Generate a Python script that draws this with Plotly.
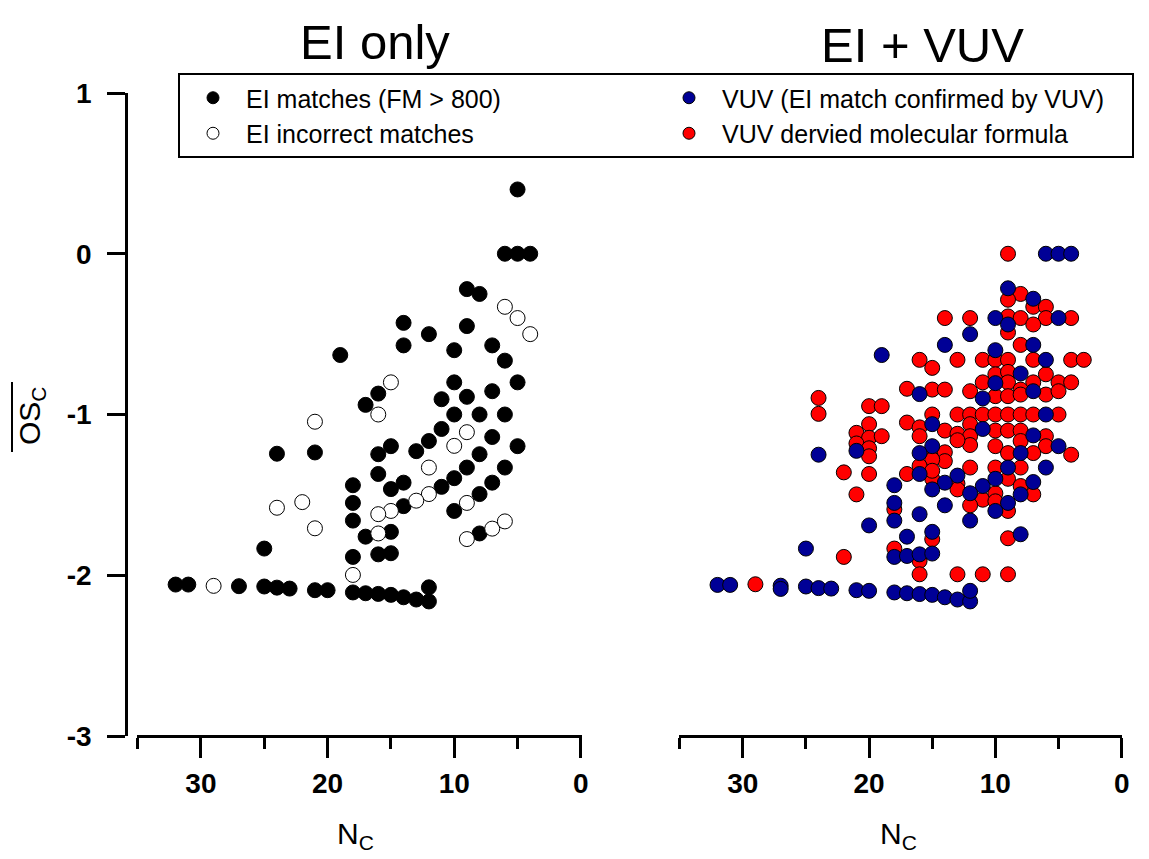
import plotly.graph_objects as go

# ---------------- data ----------------
# Left panel: EI only
EI_MATCH_NC = [5, 6, 5, 4, 9, 8, 14, 12, 9, 14, 10, 7, 6, 19, 5, 10, 7, 9, 11, 16, 17,
               10, 8, 6, 11, 7, 12, 5, 15, 16, 13, 21, 8, 24, 16, 9, 6, 18, 15, 14, 10,
               11, 7, 8, 14, 18, 10, 18, 17, 15, 8, 16, 15, 18, 25,
               32, 31, 27, 25, 24, 23, 21, 20, 18, 17, 16, 15, 14, 13, 12, 12]
EI_MATCH_OS = [0.40, 0, 0, 0, -0.22, -0.25, -0.43, -0.50, -0.45, -0.57, -0.60, -0.57, -0.665,
               -0.63, -0.80, -0.80, -0.855, -0.89, -0.905, -0.87, -0.94,
               -1.0, -1.0, -1.0, -1.09, -1.14, -1.165, -1.197, -1.197, -1.247, -1.228, -1.236,
               -1.247, -1.244, -1.37, -1.33, -1.33, -1.44, -1.464, -1.424, -1.396,
               -1.45, -1.424, -1.495, -1.57, -1.55, -1.6, -1.66, -1.76, -1.73, -1.74,
               -1.87, -1.863, -1.886, -1.834,
               -2.058, -2.058, -2.068, -2.07, -2.077, -2.083, -2.093, -2.093, -2.107, -2.112,
               -2.116, -2.122, -2.137, -2.151, -2.163, -2.075]

EI_WRONG_NC = [6, 5, 4, 15, 16, 21, 9, 10, 12, 24, 22, 21, 12, 13, 15, 16, 9, 16, 9, 7, 6, 18, 29]
EI_WRONG_OS = [-0.33, -0.40, -0.50, -0.80, -1.0, -1.045, -1.11, -1.195, -1.33, -1.58, -1.545,
               -1.708, -1.495, -1.536, -1.6, -1.62, -1.55, -1.74, -1.775, -1.71, -1.665,
               -1.998, -2.066]

# Right panel: EI + VUV
VUV_CONF_NC = [6, 5, 4, 9, 7, 10, 5, 9, 12, 14, 7, 19, 10, 6, 8, 10, 16, 11, 7, 6, 15, 11, 7,
               21, 24, 5, 15, 16, 8, 16, 9, 6, 13, 14, 18, 15, 11, 10, 7, 12, 8, 18, 14, 9,
               10, 16, 18, 12, 20, 15, 17, 8, 25, 18, 17, 16, 15,
               32, 31, 27, 27, 25, 24, 23, 21, 20, 18, 17, 16, 15, 14, 13, 12, 12]
VUV_CONF_OS = [0, 0, 0, -0.215, -0.28, -0.40, -0.40, -0.44, -0.50, -0.567, -0.567, -0.63, -0.60,
               -0.66, -0.745, -0.805, -0.873, -0.90, -0.855, -1.0, -1.06, -1.09, -1.13,
               -1.226, -1.25, -1.197, -1.197, -1.24, -1.24, -1.37, -1.33, -1.33, -1.38, -1.424,
               -1.44, -1.466, -1.445, -1.40, -1.42, -1.49, -1.497, -1.55, -1.565, -1.55,
               -1.60, -1.62, -1.66, -1.66, -1.69, -1.73, -1.76, -1.745, -1.834, -1.886, -1.88,
               -1.87, -1.865,
               -2.06, -2.06, -2.065, -2.085, -2.07, -2.08, -2.083, -2.093, -2.097, -2.107,
               -2.112, -2.117, -2.122, -2.137, -2.151, -2.163, -2.097]

VUV_FORM_NC = [9, 8, 9, 7, 6, 14, 12, 9, 8, 6, 4, 7, 9, 8,
               16, 15, 13, 11, 10, 9, 7, 4, 3, 10, 9, 6, 11, 9, 7, 5, 4, 8, 6, 5,
               17, 15, 14, 12, 10, 9, 8, 24, 24, 20, 19,
               15, 13, 12, 11, 10, 9, 8, 7, 5, 20, 17, 12, 16, 21, 20, 19,
               14, 13, 12, 12, 10, 9, 8, 6, 16, 21, 20, 20, 10, 8, 6,
               15, 14, 14, 15, 9, 7, 4, 13, 22, 20, 17, 16, 15, 15, 12, 10, 8,
               13, 13, 11, 10, 10, 9, 8, 7, 12, 21, 18, 9, 15, 9, 22, 18, 16,
               16, 13, 11, 9, 29]
VUV_FORM_OS = [0, -0.25, -0.286, -0.33, -0.33, -0.40, -0.40, -0.39, -0.40, -0.40, -0.40, -0.44,
               -0.49, -0.567,
               -0.66, -0.71, -0.66, -0.66, -0.66, -0.66, -0.66, -0.66, -0.66, -0.75, -0.735,
               -0.75, -0.80, -0.80, -0.80, -0.80, -0.80, -0.845, -0.876, -0.855,
               -0.84, -0.845, -0.845, -0.855, -0.886, -0.886, -0.876, -0.897, -0.996, -0.948,
               -0.948,
               -1.0, -1.0, -1.0, -1.0, -1.0, -1.0, -1.0, -1.0, -1.0, -1.06, -1.05, -1.06, -1.08,
               -1.114, -1.145, -1.135,
               -1.10, -1.12, -1.135, -1.19, -1.10, -1.10, -1.10, -1.135, -1.135, -1.18, -1.21,
               -1.26, -1.197, -1.165, -1.197,
               -1.25, -1.235, -1.29, -1.28, -1.24, -1.24, -1.25, -1.16, -1.36, -1.37, -1.37,
               -1.32, -1.40, -1.35, -1.33, -1.33, -1.33,
               -1.43, -1.466, -1.53, -1.49, -1.54, -1.40, -1.445, -1.497, -1.565, -1.497, -1.59,
               -1.60, -1.776, -1.77, -1.886, -1.834, -1.911,
               -1.994, -1.994, -1.994, -1.994, -2.056]

X_TICKS = [0, 10, 20, 30]
X_TICKTEXT = ["0", "10", "20", "30"]
Y_TICKS = [-3, -2, -1, 0, 1]
Y_TICKTEXT = ["-3", "-2", "-1", "0", "1"]

# ---------------- figure ----------------
W, H = 1149, 859
FONT = "Liberation Sans, Arial, sans-serif"
BLUE = "#000096"
RED = "#ff0000"
MS = 15

fig = go.Figure()

def mk(fill, size=MS):
    return dict(size=size, color=fill, line=dict(color="black", width=1))

# data traces
fig.add_trace(go.Scatter(x=EI_MATCH_NC, y=EI_MATCH_OS, mode="markers", marker=mk("black"),
                         xaxis="x", yaxis="y", showlegend=False))
fig.add_trace(go.Scatter(x=EI_WRONG_NC, y=EI_WRONG_OS, mode="markers", marker=mk("white"),
                         xaxis="x", yaxis="y", showlegend=False))
fig.add_trace(go.Scatter(x=VUV_FORM_NC, y=VUV_FORM_OS, mode="markers", marker=mk(RED),
                         xaxis="x2", yaxis="y", showlegend=False))
fig.add_trace(go.Scatter(x=VUV_CONF_NC, y=VUV_CONF_OS, mode="markers", marker=mk(BLUE),
                         xaxis="x2", yaxis="y", showlegend=False))

# legend-only entries
legend_items = [("EI matches (FM > 800)", "black"),
                ("VUV (EI match confirmed by VUV)", BLUE),
                ("EI incorrect matches", "white"),
                ("VUV dervied molecular formula", RED)]
for name, col in legend_items:
    fig.add_trace(go.Scatter(x=[None], y=[None], mode="markers", name=name,
                             marker=mk(col, 12), xaxis="x", yaxis="y"))

x0, x1 = 137 / W, 581.5 / W
x2, x3 = 679 / W, 1122.3 / W
y0, y1 = 1 - 736 / H, 1 - 93 / H

xcommon = dict(range=[35.05, -0.05], tickvals=X_TICKS, ticktext=X_TICKTEXT, ticks="outside",
               ticklen=20, tickwidth=2.5,
               tickcolor="black", showline=True, linecolor="black", linewidth=2.5,
               showgrid=False, zeroline=False, anchor="free", position=y0,
               ticklabelstandoff=2,
               tickfont=dict(family=FONT, size=28, color="black", weight="bold"),
               minor=dict(tickvals=[5, 15, 25, 35], ticks="outside", ticklen=11, tickwidth=2.5,
                          tickcolor="black", showgrid=False))

fig.update_layout(
    width=W, height=H,
    margin=dict(l=0, r=0, t=0, b=0, autoexpand=False),
    paper_bgcolor="white", plot_bgcolor="rgba(0,0,0,0)",
    font=dict(family=FONT, color="black"),
    xaxis=dict(domain=[x0, x1], **xcommon),
    xaxis2=dict(domain=[x2, x3], **xcommon),
    yaxis=dict(domain=[y0, y1], range=[-3, 1], tickvals=Y_TICKS, ticktext=Y_TICKTEXT,
               ticks="outside", ticklen=18,
               tickwidth=2.5, tickcolor="black", showline=True, linecolor="black", linewidth=2.5,
               showgrid=False, zeroline=False, anchor="free", position=126 / W,
               ticklabelstandoff=10,
               tickfont=dict(family=FONT, size=28, color="black", weight="bold")),
    legend=dict(orientation="h", x=178 / W, y=1 - 73 / H, xanchor="left", yanchor="top",
                bordercolor="black", borderwidth=2, bgcolor="white",
                entrywidth=405, entrywidthmode="pixels",
                font=dict(family=FONT, size=25, color="black"),
                itemwidth=56, tracegroupgap=0),
    annotations=[
        dict(text="EI only", x=375 / W, y=1 - 42 / H, xref="paper", yref="paper",
             xanchor="center", yanchor="middle",
             showarrow=False, font=dict(family=FONT, size=49, color="black")),
        dict(text="EI + VUV", x=922 / W, y=1 - 45 / H, xref="paper", yref="paper",
             xanchor="center", yanchor="middle",
             showarrow=False, font=dict(family=FONT, size=49, color="black")),
        dict(text="N<sub>C</sub>", x=356 / W, y=1 - 835 / H, xref="paper", yref="paper",
             xanchor="center", yanchor="middle",
             showarrow=False, font=dict(family=FONT, size=30, color="black")),
        dict(text="N<sub>C</sub>", x=899 / W, y=1 - 835 / H, xref="paper", yref="paper",
             xanchor="center", yanchor="middle",
             showarrow=False, font=dict(family=FONT, size=30, color="black")),
        dict(text="OS<sub>C</sub>",
             x=31 / W, y=1 - 416 / H, xref="paper", yref="paper", textangle=-90,
             xanchor="center", yanchor="middle",
             showarrow=False, font=dict(family=FONT, size=30, color="black")),
    ],
    shapes=[
        dict(type="line", xref="paper", yref="paper", x0=12 / W, x1=12 / W,
             y0=1 - 452 / H, y1=1 - 382 / H, line=dict(color="black", width=2)),
    ],
)

fig.write_html("out.html", config={"displayModeBar": False},
               post_script="document.body.style.margin='0px';")
